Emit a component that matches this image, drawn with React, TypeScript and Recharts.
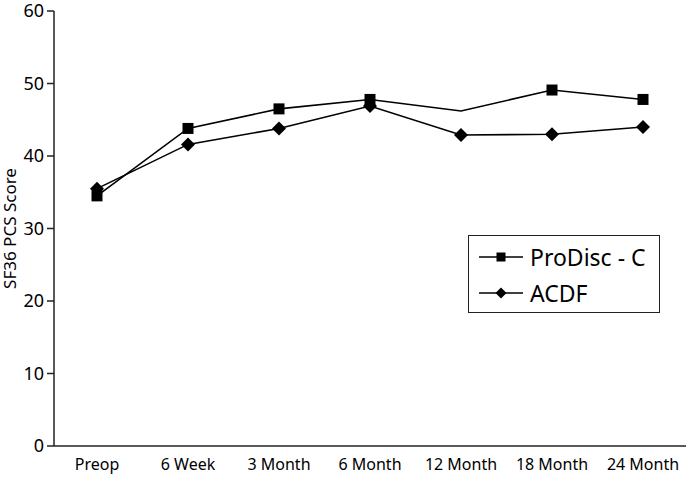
import { LineChart, Line, XAxis, YAxis, Legend } from 'recharts';

const timepoints = ['Preop', '6 Week', '3 Month', '6 Month', '12 Month', '18 Month', '24 Month'];
const prodiscScores = [34.5, 43.8, 46.5, 47.8, 46.2, 49.1, 47.8];
const acdfScores = [35.5, 41.6, 43.8, 46.9, 42.9, 43.0, 44.0];
// the 12 Month ProDisc point is plotted without a marker in the source
const prodiscMarked = [true, true, true, true, false, true, true];
const yTicks = [0, 10, 20, 30, 40, 50, 60];
const seriesNames = ['ProDisc - C', 'ACDF'];

const chartData = timepoints.map((t, i) => ({
  time: t,
  prodisc: prodiscScores[i],
  acdf: acdfScores[i],
}));

const FONT = '"Noto Sans", sans-serif';

const Square = ({ cx, cy, size }: { cx: number; cy: number; size: number }) => (
  <rect x={cx - size / 2} y={cy - size / 2} width={size} height={size} fill="#000" />
);

const Diamond = ({ cx, cy, w, h }: { cx: number; cy: number; w: number; h: number }) => (
  <polygon
    points={`${cx},${cy - h / 2} ${cx + w / 2},${cy} ${cx},${cy + h / 2} ${cx - w / 2},${cy}`}
    fill="#000"
  />
);

const renderSquareDot = (props: any) => {
  const { cx, cy, index } = props;
  if (!prodiscMarked[index]) return <g key={`sq-${index}`} />;
  return (
    <g key={`sq-${index}`}>
      <Square cx={cx} cy={cy} size={11} />
    </g>
  );
};

const renderDiamondDot = (props: any) => {
  const { cx, cy, index } = props;
  return (
    <g key={`dm-${index}`}>
      <Diamond cx={cx} cy={cy} w={14} h={14} />
    </g>
  );
};

const LegendBox = () => (
  <div
    style={{
      border: '1.5px solid #222',
      background: '#fff',
      width: 192,
      height: 78,
      boxSizing: 'border-box',
      paddingLeft: 10,
      paddingTop: 3,
      fontFamily: FONT,
      fontSize: 23,
      color: '#000',
      whiteSpace: 'nowrap',
    }}
  >
    {seriesNames.map((name, i) => (
      <div key={name} style={{ display: 'flex', alignItems: 'center', height: 36 }}>
        <svg width={46} height={20} style={{ marginRight: 5, flexShrink: 0 }}>
          <line x1={0} y1={10} x2={44} y2={10} stroke="#000" strokeWidth={1.5} />
          {i === 0 ? <Square cx={22} cy={10} size={9} /> : <Diamond cx={22} cy={10} w={11} h={11} />}
        </svg>
        <span>{name}</span>
      </div>
    ))}
  </div>
);

export default function App() {
  return (
    <div style={{ position: 'absolute', left: 0, top: 0, width: 689, height: 481, background: '#fff' }}>
      <LineChart
        width={689}
        height={481}
        data={chartData}
        margin={{ top: 11, right: 3, bottom: 0, left: 0 }}
      >
        <XAxis
          dataKey="time"
          padding={{ left: 43, right: 43 }}
          height={35}
          tickLine={false}
          tickSize={0}
          tickMargin={13}
          axisLine={{ stroke: '#222', strokeWidth: 1.5 }}
          tick={{ fill: '#000', fontSize: 16, fontFamily: FONT }}
          interval={0}
        />
        <XAxis xAxisId="top" orientation="top" dataKey="time" height={0} tick={false} tickLine={false} axisLine={{ stroke: '#222', strokeWidth: 1.5 }} />
        <YAxis
          domain={[0, 60]}
          ticks={yTicks}
          width={54}
          tickSize={7}
          tickMargin={3}
          axisLine={{ stroke: '#222', strokeWidth: 1.5 }}
          tickLine={{ stroke: '#222', strokeWidth: 1.5 }}
          tick={{ fill: '#000', fontSize: 18, fontFamily: FONT }}
          label={{
            value: 'SF36 PCS Score',
            angle: -90,
            position: 'insideLeft',
            offset: 10,
            style: { textAnchor: 'middle', fill: '#000', fontSize: 17, fontFamily: FONT },
          }}
        />
        <YAxis yAxisId="right" orientation="right" domain={[0, 60]} width={0} tick={false} tickLine={false} axisLine={{ stroke: '#444', strokeWidth: 1.5 }} />
        <Legend
          layout="vertical"
          align="center"
          verticalAlign="middle"
          wrapperStyle={{ left: 468, top: 235, width: 192 }}
          content={() => <LegendBox />}
        />
        <Line
          type="linear"
          dataKey="prodisc"
          name={seriesNames[0]}
          stroke="#000"
          strokeWidth={1.6}
          dot={renderSquareDot}
          activeDot={false}
          isAnimationActive={false}
        />
        <Line
          type="linear"
          dataKey="acdf"
          name={seriesNames[1]}
          stroke="#000"
          strokeWidth={1.6}
          dot={renderDiamondDot}
          activeDot={false}
          isAnimationActive={false}
        />
      </LineChart>
    </div>
  );
}
